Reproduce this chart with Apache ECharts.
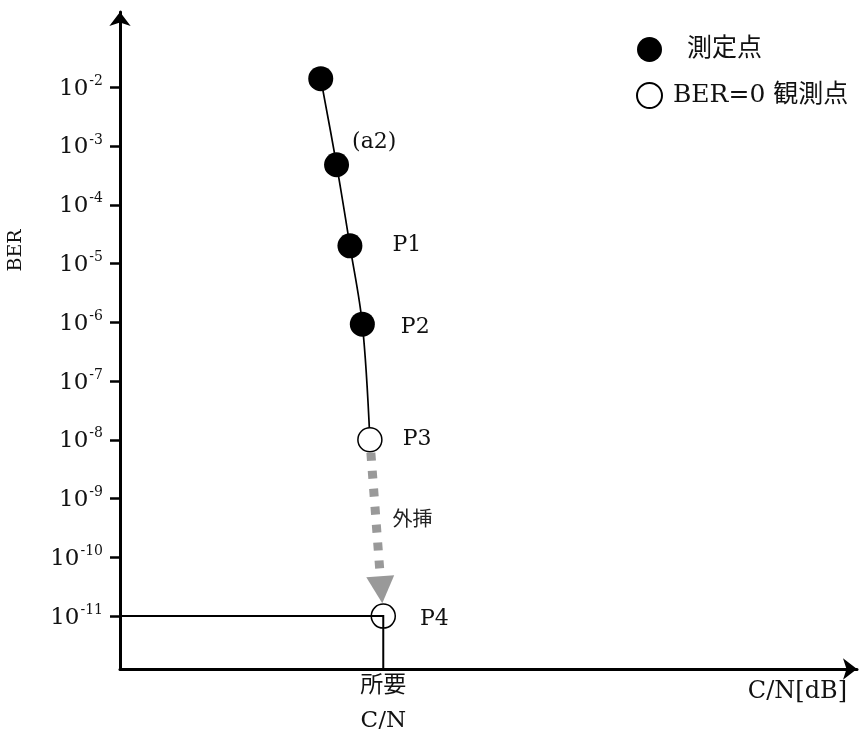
<!DOCTYPE html>
<html>
<head>
<meta charset="utf-8">
<script src="https://cdn.jsdelivr.net/npm/echarts@6/dist/echarts.min.js"></script>
<style>
  html, body { margin: 0; padding: 0; background: #fff; }
  #chart { width: 859px; height: 729px; }
</style>
</head>
<body>
<div id="chart"></div>
<script>
// ---- data ----
const filledCN  = [8.25, 8.90, 9.45, 9.96];          // C/N of measured points (arbitrary dB scale)
const filledBER = [1.4e-2, 4.8e-4, 2.0e-5, 9.3e-7];  // BER of measured points
const openCN    = [10.27, 10.82];                     // C/N of BER=0 observed points
const openBER   = [1e-8, 1e-11];                      // BER of P3 and extrapolated P4
const filledLabels = ['', '(a2)', 'P1', 'P2'];
const openLabels   = ['P3', 'P4'];
const yTickExponents = [-2, -3, -4, -5, -6, -7, -8, -9, -10, -11];
const xTickLabel = '所要\nC/N';
const seriesNames = ['測定点', 'BER=0 観測点'];
const arrowText = '外挿';

// ---- layout / style ----
const X_MIN = 0, X_MAX = 30.29;
const Y_MIN = -11.9, Y_MAX = -0.72;
const SERIF = "'DejaVu Serif', 'Noto Sans CJK JP'";
const filledLabelLayout = [
  { distance: 0,  offset: [0, 0] },
  { distance: 3,  offset: [0, -22] },
  { distance: 30, offset: [0, -1] },
  { distance: 26, offset: [0, 3] }
];
const openLabelLayout = [
  { distance: 20, offset: [0, -1] },
  { distance: 24, offset: [0, 3] }
];

const lg = v => Math.log10(v);

const filledData = filledCN.map((x, i) => ({
  value: [x, lg(filledBER[i])],
  label: { show: !!filledLabels[i], formatter: filledLabels[i],
           distance: filledLabelLayout[i].distance, offset: filledLabelLayout[i].offset }
}));
const openData = openCN.map((x, i) => ({
  value: [x, lg(openBER[i])],
  label: { show: true, formatter: openLabels[i],
           distance: openLabelLayout[i].distance, offset: openLabelLayout[i].offset }
}));
const curveData = filledCN.concat([openCN[0]]).map((x, i) =>
  [x, lg(i < filledBER.length ? filledBER[i] : openBER[0])]);

const labelStyle = { position: 'right', fontFamily: SERIF, fontSize: 22, color: '#111' };

const chart = echarts.init(document.getElementById('chart'), null, { renderer: 'canvas' });
chart.setOption({
  animation: false,
  backgroundColor: '#fff',
  grid: { left: 120, right: 2, top: 12, bottom: 60, containLabel: false, outerBoundsMode: 'none' },
  legend: {
    orient: 'vertical',
    left: 631, top: 32,
    itemWidth: 25, itemHeight: 25, itemGap: 20,
    icon: 'circle',
    data: seriesNames,
    selectedMode: false,
    formatter: name => (name === seriesNames[0] ? '{g|}' : '{h|}') + name,
    textStyle: {
      fontFamily: SERIF, fontSize: 25, color: '#111',
      rich: { g: { width: 20 }, h: { width: 6 } }
    }
  },
  xAxis: {
    type: 'value', min: X_MIN, max: X_MAX,
    splitLine: { show: false },
    axisLine: { show: true, onZero: false, symbol: ['none', 'arrow'], symbolSize: [16, 14],
                lineStyle: { color: '#000', width: 3 } },
    axisTick: { show: false },
    axisLabel: {
      show: true, customValues: [openCN[1]],
      formatter: () => xTickLabel,
      fontFamily: SERIF, fontSize: 23, lineHeight: 35, color: '#111', margin: 0
    },
    name: 'C/N[dB]', nameLocation: 'end', nameGap: -10,
    nameTextStyle: { fontFamily: SERIF, fontSize: 24, color: '#111', align: 'right',
                     verticalAlign: 'top', padding: [11, 0, 0, 0] }
  },
  yAxis: {
    type: 'value', min: Y_MIN, max: Y_MAX,
    splitLine: { show: false },
    axisLine: { show: true, onZero: false, symbol: ['none', 'arrow'], symbolSize: [16, 14],
                lineStyle: { color: '#000', width: 3 } },
    axisTick: { show: true, customValues: yTickExponents, length: 10,
                lineStyle: { color: '#000', width: 2.5 } },
    axisLabel: {
      show: true, customValues: yTickExponents, margin: 17,
      formatter: v => '{b|10}{s|' + v + '}',
      rich: {
        b: { fontFamily: SERIF, fontSize: 23, color: '#111', lineHeight: 26, verticalAlign: 'bottom' },
        s: { fontFamily: SERIF, fontSize: 14, color: '#111', lineHeight: 26, verticalAlign: 'top', padding: [0, 0, 10, 1] }
      }
    },
    name: 'BER', nameLocation: 'middle', nameRotate: 90, nameGap: 94,
    nameTextStyle: { fontFamily: SERIF, fontSize: 19, color: '#111', padding: [0, 0, 0, 180] }
  },
  series: [
    {
      type: 'line', data: curveData, smooth: 0.35, symbol: 'none',
      lineStyle: { color: '#000', width: 1.7 }, z: 1, silent: true
    },
    {
      name: seriesNames[0], type: 'scatter', data: filledData,
      symbol: 'circle', symbolSize: 25,
      itemStyle: { color: '#000', opacity: 1 },
      label: labelStyle, z: 2
    },
    {
      name: seriesNames[1], type: 'scatter', data: openData,
      symbol: 'circle', symbolSize: 24,
      itemStyle: { color: '#fff', borderColor: '#000', borderWidth: 1.5, opacity: 1 },
      label: labelStyle, z: 2
    },
    {
      type: 'custom', z: 3, silent: true,
      data: [[openCN[0], lg(openBER[0]), openCN[1], lg(openBER[1])]],
      encode: { x: [0, 2], y: [1, 3] },
      renderItem: (params, api) => {
        const p3 = api.coord([api.value(0), api.value(1)]);
        const p4 = api.coord([api.value(2), api.value(3)]);
        const corner = api.coord([X_MIN, api.value(3)]);
        const base = api.coord([api.value(2), Y_MIN]);
        const dx = p4[0] - p3[0], dy = p4[1] - p3[1];
        const L = Math.hypot(dx, dy), ux = dx / L, uy = dy / L;
        const r = 12;
        const s = [p3[0] + ux * (r + 1), p3[1] + uy * (r + 1)];
        const tip = [p4[0] - ux * (r + 1), p4[1] - uy * (r + 1)];
        const ah = 27, aw = 14;
        const b = [tip[0] - ux * ah, tip[1] - uy * ah];
        const nx = -uy, ny = ux;
        const mid = [(s[0] + b[0]) / 2, (s[1] + b[1]) / 2];
        return {
          type: 'group',
          children: [
            { type: 'polyline', shape: { points: [corner, p4, base] },
              style: { stroke: '#000', lineWidth: 2, fill: null } },
            { type: 'line', shape: { x1: s[0], y1: s[1], x2: b[0], y2: b[1] },
              style: { stroke: '#999', lineWidth: 9, lineDash: [8, 10], lineCap: 'butt' } },
            { type: 'polygon', shape: { points: [tip, [b[0] + nx * aw, b[1] + ny * aw], [b[0] - nx * aw, b[1] - ny * aw]] },
              style: { fill: '#999' } },
            { type: 'text', x: mid[0] + 17, y: mid[1] + 6,
              style: { text: arrowText, fontFamily: SERIF, fontSize: 20, fill: '#222',
                       align: 'left', verticalAlign: 'middle' } }
          ]
        };
      }
    }
  ]
});
</script>
</body>
</html>
